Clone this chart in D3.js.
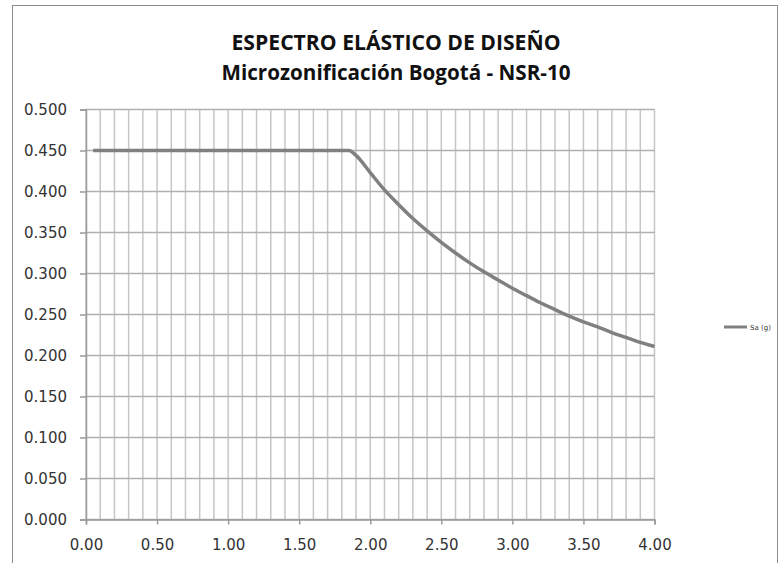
<!DOCTYPE html>
<html><head><meta charset="utf-8">
<script src="https://cdn.jsdelivr.net/npm/d3@7"></script>
<style>body{margin:0;background:#fff}svg{display:block}</style>
</head><body>
<svg id="c" width="781" height="563"></svg>
<script>
const titleLines = ["ESPECTRO ELÁSTICO DE DISEÑO", "Microzonificación Bogotá - NSR-10"];
const seriesName = "Sa (g)";
const periods = [0.05,0.50,1.00,1.50,1.85,1.90,2.00,2.10,2.20,2.30,2.40,2.50,2.60,2.70,2.80,2.90,3.00,3.10,3.20,3.30,3.40,3.50,3.60,3.70,3.80,3.90,4.00];
const saValues = [0.450,0.450,0.450,0.450,0.450,0.444,0.423,0.402,0.384,0.367,0.352,0.338,0.325,0.313,0.302,0.292,0.282,0.273,0.264,0.256,0.248,0.241,0.235,0.228,0.222,0.216,0.211];
const xTicks = [0,0.5,1,1.5,2,2.5,3,3.5,4];
const xGrid = d3.range(0,41).map(i=>i/10);
const yTicks = [0,0.05,0.1,0.15,0.2,0.25,0.3,0.35,0.4,0.45,0.5];

const svg = d3.select("#c");
// outer chart border
svg.append("rect").attr("x",12.5).attr("y",5.5).attr("width",765).attr("height",600)
  .attr("fill","none").attr("stroke","#8c8c8c").attr("stroke-width",1);

const x = d3.scaleLinear().domain([0,4]).range([86,654.5]);
const y = d3.scaleLinear().domain([0,0.5]).range([519.5,109.5]);

// vertical gridlines
svg.append("g").selectAll("line").data(xGrid).join("line")
  .attr("x1",d=>x(d)).attr("x2",d=>x(d)).attr("y1",y(0)).attr("y2",y(0.5))
  .attr("stroke","#c6c6c6").attr("stroke-width",1.5);
// horizontal gridlines
svg.append("g").selectAll("line").data(yTicks).join("line")
  .attr("x1",x(0)).attr("x2",x(4)).attr("y1",d=>y(d)).attr("y2",d=>y(d))
  .attr("stroke","#b0b0b0").attr("stroke-width",1.5);

// axes
const yAxis = svg.append("g").attr("transform",`translate(${x(0)},0)`)
  .call(d3.axisLeft(y).tickValues(yTicks).tickFormat(d3.format(".3f")).tickSize(6).tickPadding(13));
const xAxis = svg.append("g").attr("transform",`translate(0,${y(0)})`)
  .call(d3.axisBottom(x).tickValues(xTicks).tickFormat(d3.format(".2f")).tickSize(5).tickPadding(15));
[yAxis,xAxis].forEach(g=>{
  g.select(".domain").attr("stroke","#9a9a9a").attr("stroke-width",1.5);
  g.selectAll(".tick line").attr("stroke","#9a9a9a").attr("stroke-width",1.5);
  g.selectAll("text").attr("font-family","DejaVu Sans").attr("font-size",15).attr("fill","#333");
});

// series line
const pts = periods.map((t,i)=>[t,saValues[i]]);
svg.append("path").datum(pts)
  .attr("d", d3.line().x(d=>x(d[0])).y(d=>y(d[1])).curve(d3.curveMonotoneX))
  .attr("fill","none").attr("stroke","#808080").attr("stroke-width",3.5).attr("stroke-linejoin","round");

// title
const tw = [329, 349];
titleLines.forEach((t,i)=>{
  svg.append("text").attr("x",396).attr("y",50+i*30).attr("text-anchor","middle")
    .attr("font-family","Open Sans").attr("font-weight","bold").attr("font-size",22)
    .attr("textLength",tw[i]).attr("lengthAdjust","spacingAndGlyphs")
    .attr("fill","#111").text(t);
});

// legend
const lg = svg.append("g").attr("transform","translate(724,327)");
lg.append("line").attr("x1",0).attr("x2",23).attr("y1",0).attr("y2",0)
  .attr("stroke","#808080").attr("stroke-width",3);
lg.append("text").attr("x",26).attr("y",3).attr("font-family","DejaVu Sans").attr("font-size",7)
  .attr("fill","#333").text(seriesName);
</script>
</body></html>
